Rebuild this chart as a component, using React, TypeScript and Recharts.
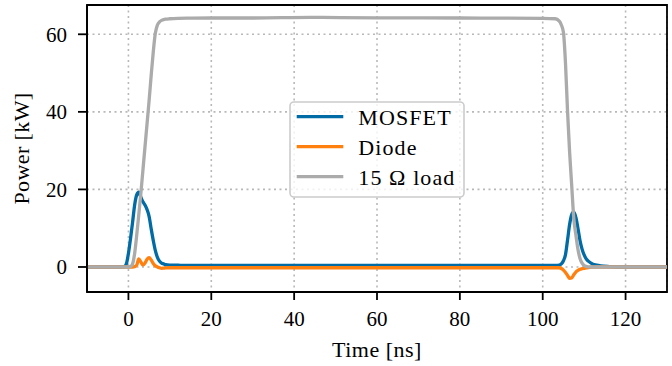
import React from 'react';
import { LineChart, Line, XAxis, YAxis, CartesianGrid, ReferenceArea, Legend } from 'recharts';

const FONT = "'Liberation Serif', 'Times New Roman', serif";

// Time base of the switching transient, ns
const timeNs = [
  -10, -2, -1, -0.5, 0, 0.5, 1, 1.5, 2, 2.5, 3, 3.5, 4, 4.5, 5, 5.5, 6, 6.5, 7, 7.5, 8, 8.5, 9, 10,
  12, 15, 20, 30, 44, 60, 80, 100, 103, 104, 104.5, 105, 105.5, 106, 106.5, 107, 107.5, 108, 108.5,
  109, 109.5, 110, 110.5, 111, 112, 113, 114, 116, 118, 130,
];

// Dissipated / delivered power, kW
const mosfetKW = [
  0, 0, 0.1, 0.8, 3.5, 7.3, 11.5, 16, 18.6, 19.3, 18, 16.8, 16, 14.8, 13, 9.8, 6.8, 4.2, 2.5, 1.5, 1.0, 0.8, 0.6, 0.5,
  0.45, 0.4, 0.4, 0.4, 0.4, 0.4, 0.4, 0.4, 0.4, 0.5, 0.8, 1.6, 3.2, 7, 11, 13.5, 14.2, 12.8, 10,
  6.8, 4.6, 3.1, 2.1, 1.5, 0.8, 0.5, 0.3, 0.1, 0, 0,
];

const diodeKW = [
  0, 0, 0, 0, 0, 0, 0, 0.1, 0.5, 2.1, 1.3, 0.5, 1.0, 2.0, 2.4, 1.8, 0.9, 0.3, 0, -0.2, -0.35, -0.3, -0.25, -0.2,
  -0.2, -0.2, -0.2, -0.2, -0.2, -0.2, -0.2, -0.2, -0.2, -0.2, -0.4, -0.8, -1.4, -2.2, -2.9, -2.8, -2.0, -1.3, -0.9,
  -0.6, -0.45, -0.35, -0.25, -0.15, -0.05, 0, 0, 0, 0, 0,
];

const loadKW = [
  0, 0, 0, 0, 0, 0.1, 0.8, 3.5, 8.2, 13.5, 19, 25, 31, 37, 43, 49.5, 55.5, 60.3, 62.4, 63.2, 63.6, 63.8, 63.9, 64.0,
  64.1, 64.15, 64.2, 64.2, 64.35, 64.25, 64.2, 64.1, 64.0, 63.4, 62.4, 60.5, 52.5, 40, 29.5, 21, 12.5, 8.3, 4.6,
  2.2, 1.0, 0.4, 0.15, 0.05, 0, 0, 0, 0, 0, 0,
];

const xTicks = [0, 20, 40, 60, 80, 100, 120];
const yTicks = [0, 20, 40, 60];
const xDomain = [-10, 130];
const yDomain = [-6.45, 67.55];

const series = [
  { key: 'mosfet', name: 'MOSFET', color: '#006BA4' },
  { key: 'diode', name: 'Diode', color: '#FF800E' },
  { key: 'load', name: '15 Ω load', color: '#ABABAB' },
];

const data = timeNs.map((t, i) => ({
  t,
  mosfet: mosfetKW[i],
  diode: diodeKW[i],
  load: loadKW[i],
}));

const tickStyle = { fill: '#000', fontSize: 21, fontFamily: FONT };

const LegendBox = () => (
  <svg width={178} height={99} style={{ display: 'block', overflow: 'visible' }}>
    <rect x={1} y={1} width={174} height={95} rx={4} ry={4} fill="rgba(255,255,255,0.8)" stroke="#cccccc" strokeWidth={1.6} />
    {series.map((s, i) => {
      const y = 15.7 + 30 * i;
      return (
        <g key={s.key}>
          <line x1={7.7} x2={54.3} y1={y} y2={y} stroke={s.color} strokeWidth={3.3} />
          <text x={69.3} y={y + 8.3} fontFamily={FONT} fontSize={22} letterSpacing={1.1} fill="#000">
            {s.name}
          </text>
        </g>
      );
    })}
  </svg>
);

export default function App() {
  return (
    <div style={{ position: 'absolute', left: 0, top: 0, background: '#fff' }}>
      <LineChart width={672} height={366} data={data} margin={{ top: 5, right: 5, bottom: 0, left: 0 }}>
        <CartesianGrid stroke="#b8b8b8" strokeWidth={1.6} strokeDasharray="2 3.5" />
        <XAxis
          dataKey="t"
          type="number"
          domain={xDomain}
          ticks={xTicks}
          allowDataOverflow
          height={74}
          tick={tickStyle}
          tickSize={8}
          tickMargin={11}
          axisLine={{ stroke: '#000', strokeWidth: 1.8 }}
          tickLine={{ stroke: '#000', strokeWidth: 1.8 }}
          label={{
            value: 'Time [ns]',
            position: 'insideBottom',
            offset: 9,
            style: { fill: '#000', fontSize: 22, fontFamily: FONT, letterSpacing: 0.5 },
          }}
        />
        <YAxis
          type="number"
          domain={yDomain}
          ticks={yTicks}
          allowDataOverflow
          width={87}
          tick={tickStyle}
          tickSize={9}
          tickMargin={11}
          axisLine={{ stroke: '#000', strokeWidth: 1.8 }}
          tickLine={{ stroke: '#000', strokeWidth: 1.8 }}
          label={{
            value: 'Power [kW]',
            angle: -90,
            position: 'insideLeft',
            offset: 21,
            style: { fill: '#000', fontSize: 22, fontFamily: FONT, textAnchor: 'middle', letterSpacing: 0.4 },
          }}
        />
        {series.map((s) => (
          <Line
            key={s.key}
            dataKey={s.key}
            name={s.name}
            type="monotone"
            stroke={s.color}
            strokeWidth={3.3}
            dot={false}
            activeDot={false}
            isAnimationActive={false}
          />
        ))}
        <ReferenceArea
          x1={xDomain[0]}
          x2={xDomain[1]}
          y1={yDomain[0]}
          y2={yDomain[1]}
          fill="none"
          stroke="#000"
          strokeWidth={1.8}
          ifOverflow="visible"
        />
        <Legend
          layout="vertical"
          align="center"
          verticalAlign="middle"
          content={<LegendBox />}
          wrapperStyle={{ left: 289, top: 101, width: 178, height: 99 }}
        />
      </LineChart>
    </div>
  );
}
